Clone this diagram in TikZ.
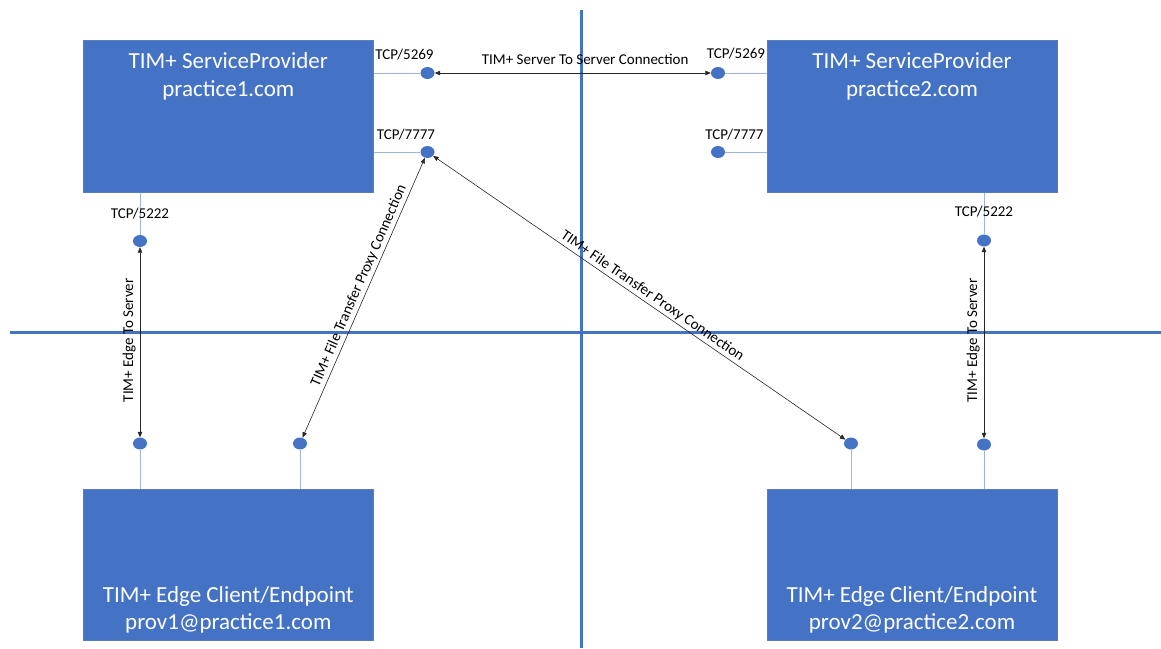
\documentclass[tikz,border=0pt]{standalone}
\usepackage{fontspec}
\setmainfont{Carlito}
\usetikzlibrary{shapes.geometric,arrows.meta,calc}
\definecolor{boxblue}{HTML}{4472C4}
\definecolor{boxedge}{HTML}{5B7DB9}
\definecolor{stubblue}{HTML}{9DB5E0}
\definecolor{axisblue}{HTML}{4472C4}
\tikzset{
  box/.style={rectangle, fill=boxblue, draw=boxedge, line width=0.8pt, inner sep=0pt},
  boxtext/.style={text=white, font=\fontsize{23}{27}\selectfont, inner sep=0pt, anchor=base},
  port/.style={ellipse, fill=boxblue, draw=none, minimum width=14pt, minimum height=12pt, inner sep=0pt},
  stub/.style={draw=stubblue, line width=1pt},
  conn/.style={draw=black!85, line width=0.6pt, {Triangle[length=5.5pt,width=4.5pt]}-{Triangle[length=5.5pt,width=4.5pt]}},
  lbl/.style={font=\fontsize{15}{18}\selectfont, inner sep=0pt},
  axis/.style={draw=axisblue, line width=2.6pt}
}
\begin{document}
\begin{tikzpicture}[x=1pt,y=-1pt]
\useasboundingbox (0,0) rectangle (1161,648);
% axes
\coordinate (vtop) at (581.5,10);
\coordinate (vbot) at (581.5,648);
\coordinate (hleft) at (10,332.5);
\coordinate (hright) at (1161,332.5);
\draw[axis] (vtop) -- (vbot);
\draw[axis] (hleft) -- (hright);
% boxes
\node[box, minimum width=290pt, minimum height=152pt] (sp1) at (228.3,116.3) {};
\node[box, minimum width=290pt, minimum height=152pt] (sp2) at (912,116.3) {};
\node[box, minimum width=290pt, minimum height=151pt] (ec1) at (228.3,564.5) {};
\node[box, minimum width=290pt, minimum height=151pt] (ec2) at (912,564.5) {};
% box texts
\node[boxtext] (sp1t1) at (228.3,68.3) {TIM+ ServiceProvider};
\node[boxtext] (sp1t2) at (228.3,96.5) {practice1.com};
\node[boxtext] (sp2t1) at (912,68.3) {TIM+ ServiceProvider};
\node[boxtext] (sp2t2) at (912,96.5) {practice2.com};
\node[boxtext] (ec1t1) at (228.3,602.5) {TIM+ Edge Client/Endpoint};
\node[boxtext] (ec1t2) at (228.3,629.5) {prov1@practice1.com};
\node[boxtext] (ec2t1) at (912,602.5) {TIM+ Edge Client/Endpoint};
\node[boxtext] (ec2t2) at (912,629.5) {prov2@practice2.com};
% ports
\node[port] (p1a) at (427.5,73) {};
\node[port] (p1b) at (427.5,152) {};
\node[port] (p2a) at (718,73) {};
\node[port] (p2b) at (718,152) {};
\node[port] (p1c) at (140,241) {};
\node[port] (p2c) at (984,240.5) {};
\node[port] (c1a) at (140,443.5) {};
\node[port] (c1b) at (300,443.5) {};
\node[port] (c2a) at (851,443.5) {};
\node[port] (c2b) at (984,444.5) {};
% stubs
\draw[stub] (sp1.east |- p1a) -- (p1a);
\draw[stub] (sp1.east |- p1b) -- (p1b);
\draw[stub] (p2a) -- (sp2.west |- p2a);
\draw[stub] (p2b) -- (sp2.west |- p2b);
\draw[stub] (sp1.south -| p1c) -- (p1c);
\draw[stub] (sp2.south -| p2c) -- (p2c);
\draw[stub] (c1a) -- (ec1.north -| c1a);
\draw[stub] (c1b) -- (ec1.north -| c1b);
\draw[stub] (c2a) -- (ec2.north -| c2a);
\draw[stub] (c2b) -- (ec2.north -| c2b);
% port labels
\node[lbl, anchor=base] (l1a) at (404.5,59) {TCP/5269};
\node[lbl, anchor=base] (l1b) at (406,139) {TCP/7777};
\node[lbl, anchor=base] (l2a) at (736,58) {TCP/5269};
\node[lbl, anchor=base] (l2b) at (734.5,139) {TCP/7777};
\node[lbl, anchor=base] (l1c) at (140,218) {TCP/5222};
\node[lbl, anchor=base] (l2c) at (984,216.7) {TCP/5222};
% connections
\draw[conn] (p1a) -- (p2a) node[lbl, pos=0.545, above=8.5pt] (s2s) {TIM+ Server To Server Connection};
\draw[conn] (c1a) -- (p1c) node[lbl, sloped, pos=0.51, above=4pt] (e2s1) {TIM+ Edge To Server};
\draw[conn] (c2b) -- (p2c) node[lbl, sloped, pos=0.51, above=4pt] (e2s2) {TIM+ Edge To Server};
\draw[conn] (c1b) -- (p1b) node[lbl, sloped, pos=0.53, above=2.5pt] (ft1) {TIM+ File Transfer Proxy Connection};
\draw[conn] (p1b) -- (c2a) node[lbl, sloped, pos=0.52, above=2pt] (ft2) {TIM+ File Transfer Proxy Connection};
\end{tikzpicture}
\end{document}
